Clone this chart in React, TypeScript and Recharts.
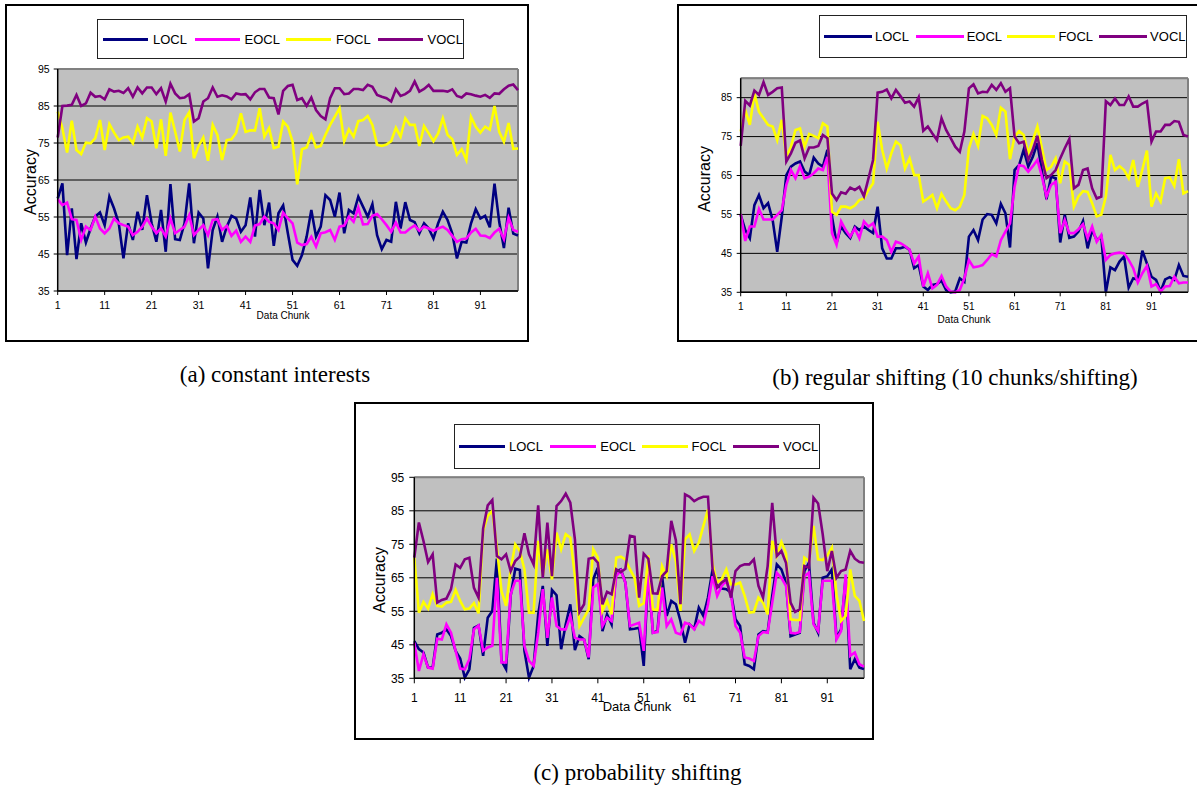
import React from 'react';
import { LineChart, Line, XAxis, YAxis, CartesianGrid, ReferenceLine } from 'recharts';

// shared axis / legend data
const chunkTicks = [1, 11, 21, 31, 41, 51, 61, 71, 81, 91];
const accuracyTicks = [35, 45, 55, 65, 75, 85, 95];
const accuracyTicksShort = [35, 45, 55, 65, 75, 85];
const seriesNames = ['LOCL', 'EOCL', 'FOCL', 'VOCL'];
const seriesColors = ['#000080', '#ff00ff', '#ffff00', '#800080'];

// (a) constant interests
const constantLOCL = [
  60, 64.1, 44.7, 57.3, 43.6, 53.3, 48.1, 51.9, 55.1, 56.2,
  52.8, 60.5, 57.3, 53.3, 43.8, 53.3, 48.8, 56.4, 51.5, 60.9,
  53.3, 48.3, 56.9, 45.6, 63.9, 49, 48.8, 53.3, 64.1, 47.9,
  56.2, 54.6, 41.1, 51.5, 55.1, 48.3, 52.4, 55.3, 54.6, 51,
  52.8, 60.3, 49.7, 62.3, 52.8, 58.9, 47.2, 56, 58.1, 50.6,
  43.4, 41.8, 44.7, 49.7, 56.9, 49.7, 52.4, 60.9, 59.6, 55.1,
  61.6, 50.6, 56.9, 56, 60.5, 57.8, 55.1, 58.5, 50.1, 46.3,
  48.8, 48.3, 59.1, 51.9, 59, 54.2, 53.6, 50.6, 53.3, 51.9,
  49.2, 53.3, 56.4, 54.2, 50.6, 43.8, 48.3, 48.1, 53.3, 57.1,
  54.6, 55.3, 52.2, 64, 53.7, 46.6, 57.5, 50.5, 50,
];
const constantEOCL = [
  59.8, 58.2, 58.9, 54.4, 54.2, 48.8, 52.4, 51.5, 55.1, 51.9,
  50.6, 51.9, 54.6, 53.3, 52.8, 52.4, 50.1, 51, 52.4, 54.6,
  52.4, 50.6, 51.9, 49.7, 54.6, 50.6, 51.5, 52.4, 55.5, 50.1,
  51.5, 52.8, 50.1, 54.2, 54.4, 51.5, 52.6, 49.9, 51.3, 48.3,
  49.7, 48.3, 52.7, 53.1, 55.1, 53.7, 53.3, 51.5, 56.2, 54.6,
  53.3, 48.1, 47.4, 47.7, 49.7, 47, 50.6, 50.9, 51.5, 48.8,
  52.4, 52.7, 55.1, 53.7, 57.5, 53, 53.1, 55.3, 55.8, 54.4,
  52.8, 51, 53.5, 50.8, 50.8, 51.9, 52.7, 51.3, 52.4, 51.9,
  51.3, 51.9, 52.4, 51.5, 49.9, 48.3, 49, 49.2, 50.8, 51.8,
  50, 49.9, 49.3, 50.8, 51.8, 49, 54.8, 51.5, 51,
];
const constantFOCL = [
  83.5, 79, 72.4, 81, 73.1, 72, 75.1, 74.9, 76.3, 81.2,
  73.1, 80.1, 77.8, 75.8, 76.5, 76.7, 74.9, 79.4, 76.5, 81.7,
  80.8, 73.6, 81.4, 71.5, 83.2, 78.1, 72.7, 81.2, 83.3, 70.9,
  74.2, 76.5, 70.2, 79.9, 77.2, 70.4, 75.8, 76, 77.8, 83,
  78, 78.4, 78.4, 84.4, 76.7, 79, 73.6, 74, 80.8, 79.4,
  75.4, 63.8, 73.3, 73.8, 77.2, 73.8, 74.2, 77.2, 79.9, 82.1,
  84.4, 75.5, 78.7, 76.7, 80.9, 81.2, 82.3, 79.9, 74.5, 74.2,
  74.6, 75.5, 79.1, 76.7, 81.7, 79.9, 79.9, 74.2, 79.6, 77.6,
  75.5, 77.6, 81.7, 77.2, 76, 71.8, 73.3, 70.4, 82.1, 79.4,
  77.8, 79.4, 78.6, 85, 78, 75.3, 80.4, 73.4, 73.5,
];
const constantVOCL = [
  76.5, 85, 85.1, 85.3, 88, 85, 85.7, 88.6, 87.5, 87.7,
  86.8, 89.5, 88.9, 89.1, 88.5, 89.8, 87.5, 90, 88.4, 90,
  90, 88.2, 89.8, 86.2, 91, 88.4, 87.1, 87.3, 88.2, 80.8,
  81.7, 86.2, 87.1, 90, 87.5, 87.9, 87.6, 86.8, 88.4, 88.1,
  88.2, 86.8, 88.7, 89.6, 89.6, 87.3, 87.1, 82.7, 89.1, 90.4,
  90.7, 86.6, 87.1, 85, 87.3, 83.9, 82.3, 81.4, 87.1, 89.8,
  89.8, 88.2, 88.4, 89.6, 89.6, 89.3, 90.7, 90.2, 88, 87.5,
  87.1, 86.2, 89.5, 87.7, 88.2, 89.1, 91.6, 88.9, 89.6, 90.7,
  89.1, 89.1, 89.1, 88.9, 89.5, 87.7, 87.3, 88.4, 88.2, 87.8,
  87.5, 88, 87.2, 88.4, 88.3, 89.5, 90.5, 90.8, 89.3,
];

// (b) regular shifting
const regularLOCL = [
  54.9, 51, 48.9, 57.4, 60, 56.6, 57.9, 53.6, 45.4, 54.4,
  65.1, 67.3, 68.1, 68.6, 66, 65.1, 69.6, 68.1, 67.3, 71.6,
  54.4, 47.6, 51.9, 50.2, 48.9, 51.9, 51, 51.9, 51, 50.2,
  57, 46.3, 43.7, 43.7, 46.3, 46.3, 46.7, 45.9, 41.2, 42,
  36.5, 35.6, 36.9, 37.1, 38, 35.6, 35, 35.2, 38.6, 37.7,
  49.3, 51, 48.4, 53.7, 55.1, 54.9, 52.7, 57.7, 55.3, 46.5,
  66.4, 67.7, 71.6, 67.3, 69.8, 73.3, 66, 58.9, 64.7, 64.3,
  47.8, 54.9, 49, 49.3, 50.6, 53.3, 46.3, 51, 48.4, 49.3,
  35, 41.4, 40.7, 42.9, 44.2, 36.2, 38.6, 38.2, 45.7, 42.4,
  39, 38.2, 35.2, 38.3, 38.9, 38.2, 42, 39.2, 39,
];
const regularEOCL = [
  55.1, 48.2, 51.9, 51.9, 56.4, 53.7, 53.7, 53.7, 54.9, 56.1,
  62.6, 66.4, 64.3, 67.4, 64.3, 64.7, 65.6, 66.8, 66.4, 69.8,
  50.2, 47.2, 53.2, 51, 49.3, 51.4, 48.9, 53.2, 51.9, 52.7,
  49.3, 49.3, 48.4, 45.4, 48, 47.6, 46.9, 45.9, 42.4, 44.2,
  36.5, 39.9, 36, 36.9, 39.2, 36.5, 35.2, 35, 35.6, 38.6,
  43.3, 41.4, 41.6, 42, 43.3, 44.8, 44.2, 48.4, 50.6, 52.7,
  62.1, 67.7, 67.4, 66, 67.4, 69, 64.7, 59.6, 62.6, 63.4,
  50.2, 53.6, 50.2, 50.2, 51.2, 52.5, 48.9, 51.9, 48, 49.7,
  43.3, 44.6, 45, 45.2, 45, 43.3, 41.2, 37.5, 39.9, 41.8,
  36.5, 37.1, 35.2, 36.5, 36.6, 39, 37.3, 37.5, 37.5,
];
const regularFOCL = [
  76.3, 81.8, 78, 86.1, 81.4, 79.7, 78, 77.6, 74.1, 79.3,
  69.8, 72.4, 76.7, 77.1, 72.4, 75.7, 75.2, 74.6, 78.4, 77.6,
  55.7, 54.9, 57, 57, 56.6, 57.3, 58.7, 59.1, 61.3, 63,
  78.8, 71.6, 66.8, 70.7, 73.7, 72.8, 66.8, 69.4, 65.1, 65.1,
  58.3, 59.1, 60, 56.6, 60.3, 58.3, 56.6, 56.1, 57, 60,
  72, 75.7, 72.6, 80.3, 79.7, 78, 75.4, 82.4, 81.4, 69.2,
  75, 76.4, 75.4, 70.7, 74.1, 77.6, 72, 66.4, 67.2, 69.4,
  63, 68.6, 67.7, 57, 59.6, 61, 60.8, 57.9, 54.5, 54.9,
  59.6, 70.3, 66.4, 67.4, 66.4, 64.3, 69, 62.1, 66.5, 71.4,
  57, 60.4, 58.3, 64.3, 64.5, 62.3, 69.2, 60.4, 61,
];
const regularVOCL = [
  72.6, 84.2, 83, 86.8, 85.7, 89, 85.7, 86.5, 87.4, 87.6,
  68.6, 70.7, 73.4, 74, 69.4, 72.2, 72.2, 72.6, 75.4, 74.6,
  60.4, 58.7, 60.7, 60.3, 61.9, 61.3, 62.1, 59.7, 64.3, 69,
  86.3, 86.5, 87.1, 84.8, 87, 85.4, 83.7, 84, 82.7, 85.1,
  76.5, 77.6, 75.8, 74.1, 79.7, 76.7, 74.6, 72.4, 71.1, 76.3,
  87.4, 88.4, 86.1, 86.5, 86.4, 88.3, 87, 88.7, 86.5, 87.4,
  75, 73.3, 73.7, 69, 71.6, 75.2, 69, 64.3, 65.1, 66.4,
  69.4, 72, 74.4, 61.7, 62.6, 66.4, 66.8, 61.7, 59.1, 59.6,
  84.1, 83.1, 84.8, 83.1, 83.1, 85.3, 82.7, 82.7, 83.5, 84.1,
  73.7, 76.3, 76.3, 78, 78, 79, 78.8, 75.4, 75,
];

// (c) probability shifting
const probabilityLOCL = [
  46.1, 43.7, 42.7, 38.2, 38.2, 48.1, 48.6, 49.6, 47.6, 43.2,
  40.9, 35.2, 37.7, 50.1, 50.8, 41.7, 53.1, 55.1, 70.7, 40.2,
  37.7, 59.6, 67.7, 67.3, 43.2, 35.2, 38.7, 54.1, 62.6, 44.7,
  61.4, 59.8, 43.7, 51.1, 57.1, 43.4, 47.6, 46.6, 40.7, 64.6,
  68, 49.1, 54.1, 51.1, 67, 67.5, 63.6, 49.6, 49.8, 50.1,
  38.7, 67.5, 48.6, 49.1, 65.5, 53.6, 58.1, 57.1, 52.1, 45.6,
  51.1, 49.8, 56.1, 53.6, 59.1, 67.5, 62.6, 61.8, 61.6, 60.6,
  52.6, 50.6, 39.2, 38.7, 37.7, 48.1, 49.1, 48.8, 59.6, 69,
  67.5, 63.6, 47.6, 48.1, 48.6, 67, 69.5, 51.6, 48.6, 65,
  65.5, 67.5, 47.1, 49.6, 65, 37.7, 40.7, 38.2, 37.8,
];
const probabilityEOCL = [
  45.6, 37.2, 42.2, 38.2, 37.9, 46.8, 46.6, 51.1, 48.6, 43.2,
  37.9, 37.7, 40.7, 49.6, 50.8, 43.2, 44.2, 44.7, 65, 39.7,
  39.7, 60.1, 64.1, 64.1, 44.7, 40.2, 38.7, 48.6, 61.6, 47.1,
  59.1, 50.6, 49.6, 49.6, 53.6, 47.1, 46.6, 46.6, 41.2, 62.1,
  63.1, 50.6, 53.1, 52.1, 65.5, 67.2, 63.6, 50.6, 51.1, 51.6,
  43.2, 67, 48.6, 48.8, 62.1, 50.6, 52.6, 48.6, 48.1, 51.6,
  51.1, 49.6, 52.1, 51.1, 57.1, 65.5, 59.6, 62.6, 64.1, 60.1,
  50.6, 48.6, 41.2, 40.9, 40.2, 47.6, 48.8, 48.6, 57.6, 66.5,
  65, 62.6, 48.6, 48.4, 48.8, 65.5, 66.5, 51.1, 49.1, 64.1,
  64.1, 64.1, 46.6, 49.1, 66, 41.7, 42.7, 39.2, 38.5,
];
const probabilityFOCL = [
  71, 54.6, 57.8, 55.8, 60.1, 56.6, 56.4, 57.6, 57.8, 61.4,
  58.1, 55.6, 55.8, 57.4, 54.4, 79, 83.5, 85, 74, 61,
  56.6, 67.5, 75, 73, 67.5, 54.6, 54.6, 76, 65.7, 73.5,
  64.5, 78.5, 73.5, 78, 77, 65.5, 50.6, 53.1, 55.6, 73.5,
  71, 55.1, 58.1, 54.1, 71, 71.3, 70.5, 67.5, 65, 56.6,
  57.4, 71.7, 55.6, 55.4, 68.5, 65.5, 75, 70, 55.1, 76.5,
  78, 73, 75.5, 80.5, 85.4, 69, 63.6, 64.6, 67.5, 63,
  63, 63.6, 59.6, 54.6, 54.8, 59.1, 57.6, 54.1, 76, 71.5,
  75.7, 72.3, 52.6, 52.4, 52.4, 71, 70, 80.5, 70.5, 70.3,
  71.7, 74, 60.1, 52.1, 53.6, 67.5, 59.6, 58.1, 52.1,
];
const probabilityVOCL = [
  71, 81.5, 76, 69.7, 72, 57.6, 58.4, 58.8, 61.6, 69,
  68, 70.5, 71, 62, 59.1, 79.7, 86.6, 88.2, 71.5, 70.5,
  72, 67, 70, 71.3, 78.3, 72, 69, 86.6, 65, 81.5,
  65.5, 86.4, 87.9, 90.1, 87.4, 76.5, 54.8, 57.1, 70.7, 71,
  69.5, 57.1, 60.8, 60.1, 67.5, 66.7, 67.7, 77.5, 77.2, 59.1,
  72.2, 70.7, 60.4, 60.3, 65.5, 67, 82, 76.2, 57.1, 89.9,
  89.2, 87.9, 88.7, 89.2, 89.2, 67.5, 62.1, 63.6, 64.6, 59.1,
  67, 68.5, 69, 69, 70.5, 62.6, 59.1, 68.5, 87.4, 71.5,
  73, 69.5, 57.6, 54.8, 55.6, 68.5, 68, 88.9, 87.2, 78,
  67, 73, 65, 67, 67.5, 73, 70.7, 69.7, 69.5,
];

function buildRows(locl: number[], eocl: number[], focl: number[], vocl: number[]) {
  return locl.map((v, i) => ({ chunk: i + 1, LOCL: v, EOCL: eocl[i], FOCL: focl[i], VOCL: vocl[i] }));
}

const sans = '"Liberation Sans", Arial, sans-serif';
const serif = '"Liberation Serif", "Times New Roman", serif';

function Legend({ x, y, w, h, pad, pitch, swatch, gap }: any) {
  return (
    <div
      style={{
        position: 'absolute', left: x, top: y, width: w, height: h,
        border: '1px solid #222', background: '#fff', boxSizing: 'border-box',
      }}
    >
      {seriesNames.map((name, i) => (
        <div
          key={name}
          style={{
            position: 'absolute', left: pad + i * pitch, top: 0, height: h - 2,
            display: 'flex', alignItems: 'center', fontFamily: sans, fontSize: 13, color: '#000',
          }}
        >
          <div style={{ width: swatch, height: 3, background: seriesColors[i], marginRight: gap }} />
          <span>{name}</span>
        </div>
      ))}
    </div>
  );
}

function Panel({ rows, box, plot, yTop, yTicks, font, xTick, yTick, legend, yTitle, xTitle, xTitleSize }: any) {
  const yAxisWidth = 30;
  const xAxisHeight = 20;
  const margin = {
    left: plot.x1 - box.x - yAxisWidth,
    right: box.x + box.w - plot.x2,
    top: plot.y1 - box.y,
    bottom: box.y + box.h - plot.y2 - xAxisHeight,
  };
  const tickStyle = { fontSize: font, fill: '#000', fontFamily: sans };
  const lastChunk = rows.length;
  return (
    <>
      <div
        style={{
          position: 'absolute', left: box.x, top: box.y, width: box.w, height: box.h,
          border: '2px solid #000', boxSizing: 'border-box', background: '#fff',
        }}
      />
      <div style={{ position: 'absolute', left: box.x, top: box.y }}>
        <LineChart width={box.w} height={box.h} data={rows} margin={margin}>
          <CartesianGrid vertical={false} stroke="#000" strokeWidth={1} fill="#c0c0c0" fillOpacity={1} />
          <XAxis
            type="number"
            dataKey="chunk"
            domain={[1, lastChunk]}
            ticks={chunkTicks}
            interval={0}
            height={xAxisHeight}
            axisLine={{ stroke: '#000', strokeWidth: 1.5 }}
            tickLine={{ stroke: '#000' }}
            tickSize={xTick.size}
            tickMargin={xTick.margin}
            tick={tickStyle}
          />
          <YAxis
            type="number"
            domain={[35, yTop]}
            ticks={yTicks}
            interval={0}
            width={yAxisWidth}
            axisLine={{ stroke: '#000', strokeWidth: 1.5 }}
            tickLine={{ stroke: '#000' }}
            tickSize={yTick.size}
            tickMargin={yTick.margin}
            tick={tickStyle}
          />
          <ReferenceLine y={yTop} stroke="#808080" strokeWidth={2} />
          <ReferenceLine x={lastChunk} stroke="#808080" strokeWidth={2} />
          {seriesNames.map((name, i) => (
            <Line
              key={name}
              type="linear"
              dataKey={name}
              stroke={seriesColors[i]}
              strokeWidth={2.6}
              dot={false}
              activeDot={false}
              isAnimationActive={false}
            />
          ))}
        </LineChart>
      </div>
      <Legend {...legend} />
      <div
        style={{
          position: 'absolute', left: yTitle.x, top: yTitle.y, fontFamily: sans, fontSize: 16,
          transform: 'translate(-50%, -50%) rotate(-90deg)', whiteSpace: 'nowrap', lineHeight: 1, color: '#000',
        }}
      >
        Accuracy
      </div>
      <div
        style={{
          position: 'absolute', left: xTitle.x, top: xTitle.y, fontFamily: sans, fontSize: xTitleSize,
          transform: 'translate(-50%, -50%)', whiteSpace: 'nowrap', lineHeight: 1, color: '#000',
        }}
      >
        Data Chunk
      </div>
    </>
  );
}

function Caption({ x, y, text }: any) {
  return (
    <div
      style={{
        position: 'absolute', left: x, top: y, fontFamily: serif, fontSize: 23,
        transform: 'translate(-50%, -50%)', whiteSpace: 'nowrap', lineHeight: 1, color: '#000',
      }}
    >
      {text}
    </div>
  );
}

export default function App() {
  return (
    <div
      style={{
        position: 'absolute', left: 0, top: 0, width: 1197, height: 786,
        overflow: 'hidden', background: '#fff',
      }}
    >
      <Panel
        rows={buildRows(constantLOCL, constantEOCL, constantFOCL, constantVOCL)}
        box={{ x: 5, y: 4, w: 524, h: 338 }}
        plot={{ x1: 57.7, x2: 518, y1: 69, y2: 291 }}
        yTop={95}
        yTicks={accuracyTicks}
        font={10.5}
        xTick={{ size: 4, margin: 7 }}
        yTick={{ size: 4, margin: 4 }}
        legend={{ x: 97, y: 19, w: 367, h: 40, pad: 5, pitch: 91.5, swatch: 45, gap: 5 }}
        yTitle={{ x: 31, y: 182 }}
        xTitle={{ x: 283, y: 316 }}
        xTitleSize={10}
      />
      <Panel
        rows={buildRows(regularLOCL, regularEOCL, regularFOCL, regularVOCL)}
        box={{ x: 677, y: 4, w: 524, h: 338 }}
        plot={{ x1: 740.7, x2: 1188, y1: 78.2, y2: 292.3 }}
        yTop={90}
        yTicks={accuracyTicksShort}
        font={10}
        xTick={{ size: 4, margin: 7 }}
        yTick={{ size: 4, margin: 4.7 }}
        legend={{ x: 819, y: 15, w: 368, h: 43, pad: 4, pitch: 91.7, swatch: 48, gap: 3 }}
        yTitle={{ x: 704.5, y: 178.5 }}
        xTitle={{ x: 964, y: 320 }}
        xTitleSize={10}
      />
      <Panel
        rows={buildRows(probabilityLOCL, probabilityEOCL, probabilityFOCL, probabilityVOCL)}
        box={{ x: 354, y: 402, w: 520, h: 338 }}
        plot={{ x1: 414.3, x2: 864, y1: 477.3, y2: 678.3 }}
        yTop={95}
        yTicks={accuracyTicks}
        font={12}
        xTick={{ size: 5, margin: 10 }}
        yTick={{ size: 5, margin: 5 }}
        legend={{ x: 454, y: 424, w: 366, h: 45, pad: 4, pitch: 91.3, swatch: 46, gap: 4 }}
        yTitle={{ x: 379.5, y: 580 }}
        xTitle={{ x: 637, y: 706 }}
        xTitleSize={13}
      />
      <Caption x={275} y={374} text="(a) constant interests" />
      <Caption x={955} y={377} text="(b) regular shifting (10 chunks/shifting)" />
      <Caption x={637.5} y={772} text="(c) probability shifting" />
    </div>
  );
}
